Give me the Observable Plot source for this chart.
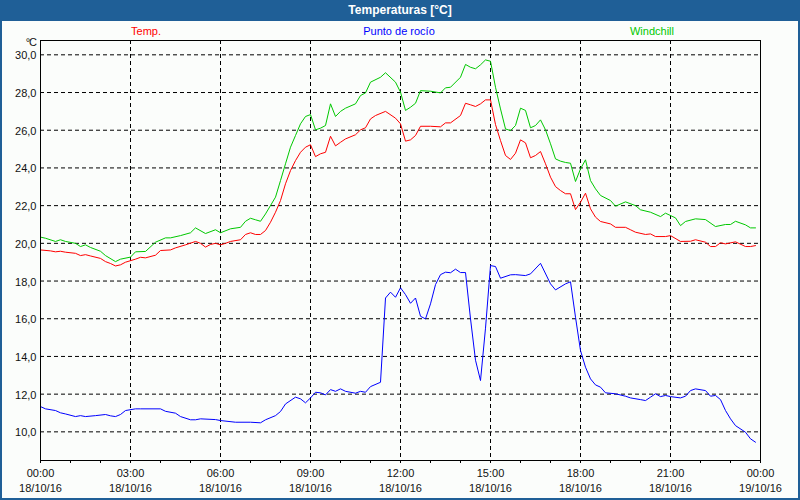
<!DOCTYPE html>
<html>
<head>
<meta charset="utf-8">
<script src="https://cdn.jsdelivr.net/npm/d3@7"></script>
<script src="https://cdn.jsdelivr.net/npm/@observablehq/plot@0.6"></script>
<style>
  html, body { margin: 0; padding: 0; background: #fff; }
  #wrap { position: relative; width: 800px; height: 500px; background: #1f5f97; overflow: hidden;
          font-family: "Liberation Sans", Arial, sans-serif; }
  #inner { position: absolute; left: 2px; top: 21px; width: 796px; height: 477px; background: #fbfdfb; }
  #title { position: absolute; left: 0; top: 0; width: 800px; height: 21px; line-height: 20px;
           text-align: center; color: #fff; font-weight: bold; font-size: 12px; }
  #chart { position: absolute; left: 0; top: 0; }
  .leg { position: absolute; top: 25px; font-size: 11px; transform: translateX(-50%); white-space: nowrap; }
  #unit { position: absolute; right: 764px; top: 36px; font-size: 11px; line-height: 12px; color: #111; letter-spacing: -1px; }
</style>
</head>
<body>
<div id="wrap">
  <div id="inner"></div>
  <div id="title">Temperaturas [°C]</div>
  <div id="chart"></div>
  <div class="leg" style="left:146px;color:#ff0000">Temp.</div>
  <div class="leg" style="left:399px;color:#0000ff">Punto de rocío</div>
  <div class="leg" style="left:652px;color:#00c800">Windchill</div>
  <div id="unit">°C</div>
</div>
<script>
// minutes since 00:00 on 18/10/16
const tempMin = [0,20,30,40,50,70,80,90,100,120,130,140,150,160,170,190,200,210,230,240,260,270,290,310,320,330,340,350,360,370,380,400,410,420,430,440,450,460,470,480,490,500,510,520,530,540,550,560,570,580,590,600,610,630,640,650,660,670,690,710,720,730,740,750,760,780,800,810,820,840,850,860,870,880,890,900,910,920,930,940,950,960,970,980,990,1000,1010,1020,1030,1040,1050,1060,1070,1080,1090,1100,1110,1120,1140,1150,1170,1180,1190,1210,1220,1230,1250,1260,1280,1300,1310,1330,1340,1350,1360,1370,1390,1410,1420,1430];
const tempVal = [19.65,19.6,19.55,19.58,19.53,19.47,19.35,19.4,19.33,19.2,19.03,18.93,18.8,18.86,19.0,19.16,19.26,19.23,19.37,19.62,19.65,19.76,19.92,20.1,20.0,19.8,19.94,20.0,19.92,20.0,20.1,20.19,20.47,20.56,20.47,20.47,20.68,21.12,21.65,22.27,23.16,23.86,24.39,24.83,25.1,25.23,24.6,24.75,24.83,25.68,25.17,25.36,25.54,25.76,26.02,26.13,26.6,26.78,27.0,26.64,26.34,25.42,25.49,25.72,26.21,26.21,26.18,26.39,26.39,26.78,27.43,27.35,27.26,27.4,27.61,27.61,26.3,25.45,24.66,24.45,24.78,25.49,25.33,24.54,24.66,24.87,24.22,23.51,23.01,22.8,22.63,22.63,21.79,22.18,22.66,21.83,21.39,21.16,21.03,20.85,20.85,20.72,20.59,20.47,20.5,20.36,20.36,20.41,20.1,20.11,20.19,20.06,19.83,19.83,20.03,19.97,20.08,19.83,19.83,19.88];

const dewMin = [0,10,30,40,50,70,80,90,110,130,140,150,160,170,190,200,240,250,270,280,300,310,320,350,360,390,420,440,450,470,480,490,510,520,530,540,550,560,570,580,590,600,610,630,640,650,660,680,690,700,710,720,730,740,750,760,770,780,790,800,810,820,830,840,850,860,870,880,890,900,910,920,940,950,970,980,1000,1020,1030,1050,1060,1070,1080,1090,1100,1110,1120,1130,1150,1170,1180,1200,1210,1220,1230,1240,1250,1260,1280,1290,1300,1310,1330,1340,1350,1360,1370,1380,1390,1410,1420,1430];
const dewVal = [11.34,11.22,11.13,11.01,10.95,10.81,10.86,10.81,10.86,10.92,10.85,10.81,10.92,11.13,11.22,11.22,11.22,11.09,10.99,10.81,10.64,10.64,10.69,10.65,10.6,10.51,10.51,10.48,10.64,10.86,11.08,11.48,11.84,11.75,11.54,11.8,12.1,12.07,11.96,12.24,12.15,12.28,12.15,12.05,12.15,12.1,12.4,12.63,17.1,17.41,17.14,17.64,17.28,16.82,17.1,16.13,15.99,16.79,17.81,18.34,18.47,18.44,18.63,18.45,18.45,16.0,13.8,12.72,15.5,18.82,18.77,18.15,18.33,18.34,18.29,18.38,18.94,17.85,17.53,17.85,17.96,16.08,14.31,13.43,12.81,12.49,12.37,12.07,12.02,11.89,11.8,11.71,11.66,11.84,12.02,11.87,11.93,11.87,11.8,11.89,12.19,12.28,12.19,11.89,11.93,11.71,11.13,10.69,10.33,9.98,9.63,9.45];

const windMin = [0,10,30,40,50,70,80,90,100,120,130,150,160,180,190,210,230,250,260,280,300,310,330,350,360,380,400,410,420,430,440,450,470,480,490,500,510,520,530,540,550,560,570,580,590,600,610,630,640,650,660,680,690,710,720,730,740,750,760,780,800,810,820,840,850,860,870,880,890,900,910,920,930,940,950,960,970,980,990,1000,1010,1020,1030,1040,1050,1060,1070,1080,1090,1100,1110,1120,1140,1150,1170,1190,1200,1220,1240,1250,1270,1280,1290,1310,1330,1350,1370,1380,1390,1410,1420,1430];
const windVal = [20.33,20.27,20.1,20.19,20.1,20.0,19.83,19.92,19.78,19.58,19.35,19.03,19.16,19.27,19.55,19.57,20.06,20.29,20.29,20.41,20.56,20.82,20.52,20.72,20.56,20.77,20.85,21.17,21.33,21.25,21.17,21.56,22.45,23.33,24.22,25.1,25.72,26.34,26.73,26.83,26.02,26.11,26.25,27.4,26.73,27.0,27.17,27.4,27.84,27.98,28.55,28.81,29.05,28.55,28.02,27.05,27.22,27.43,28.1,28.07,27.98,28.25,28.28,28.81,29.49,29.34,29.26,29.47,29.73,29.66,28.28,27.13,26.07,25.98,26.25,27.17,27.05,26.13,26.25,26.55,26.02,25.28,24.48,24.36,24.29,24.25,23.28,23.95,24.43,23.33,22.89,22.54,22.27,21.97,22.2,22.0,21.78,21.65,21.42,21.6,21.35,20.94,21.16,21.3,21.26,20.89,21.0,21.0,21.17,20.98,20.82,20.82];

const yTicks = [10, 12, 14, 16, 18, 20, 22, 24, 26, 28, 30];
const xTicks = [0, 180, 360, 540, 720, 900, 1080, 1260, 1440];
const xTimeLabels = ["00:00","03:00","06:00","09:00","12:00","15:00","18:00","21:00","00:00"];
const xDateLabels = ["18/10/16","18/10/16","18/10/16","18/10/16","18/10/16","18/10/16","18/10/16","18/10/16","19/10/16"];
const hourTicks = d3.range(0, 1441, 60);

const toRows = (ms, vs) => ms.map((m, i) => ({m, v: vs[i]}));
const temp = toRows(tempMin, tempVal);
const dew = toRows(dewMin, dewVal);
const wind = toRows(windMin, windVal);

const dash = "4,3";
const chart = Plot.plot({
  width: 800,
  height: 500,
  marginTop: 40,
  marginRight: 40,
  marginBottom: 40,
  marginLeft: 40,
  style: {background: "transparent", fontFamily: "'Liberation Sans', Arial, sans-serif", fontSize: "11px", color: "#111"},
  x: {type: "linear", domain: [0, 1440]},
  y: {domain: [8.48, 30.76]},
  marks: [
    Plot.gridY(yTicks, {stroke: "#000", strokeOpacity: 1, strokeDasharray: dash}),
    Plot.gridX(xTicks.slice(1, -1), {stroke: "#000", strokeOpacity: 1, strokeDasharray: dash}),
    Plot.axisY(yTicks, {tickSize: 0, tickPadding: 4, dy: 1, label: null, tickFormat: d => d.toFixed(1).replace(".", ",")}),
    Plot.axisX(hourTicks, {tickSize: 3, tickFormat: () => "", label: null, stroke: "#000"}),
    Plot.axisX(xTicks, {tickSize: 0, tickPadding: 9, label: null, tickFormat: (d, i) => xTimeLabels[i]}),
    Plot.axisX(xTicks, {tickSize: 0, tickPadding: 24, label: null, tickFormat: (d, i) => xDateLabels[i]}),
    Plot.line(temp, {x: "m", y: "v", stroke: "#ff0000", strokeWidth: 1}),
    Plot.line(wind, {x: "m", y: "v", stroke: "#00c800", strokeWidth: 1}),
    Plot.line(dew, {x: "m", y: "v", stroke: "#0000ff", strokeWidth: 1}),
    Plot.frame({stroke: "#000"})
  ]
});
document.getElementById("chart").append(chart);
</script>
</body>
</html>
